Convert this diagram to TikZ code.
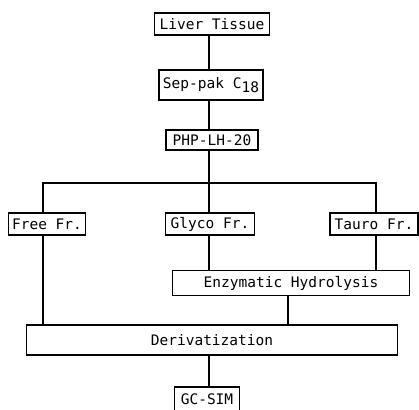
\documentclass[tikz,border=0pt]{standalone}
\usepackage{fontspec}
\setmonofont{DejaVu Sans Mono}
\usetikzlibrary{positioning,calc}
\tikzset{
    box/.style={draw,rectangle,line width=1.2pt,inner sep=0pt,font=\ttfamily\fontsize{14.5}{16}\selectfont},
}

\begin{document}
\begin{tikzpicture}[x=1pt,y=-1pt,line width=1.4pt,
    wide box/.style={box,minimum height=30}]
        \clip (0,0) rectangle (419,409);
        \node[box,minimum width=115,minimum height=22] (liver) at (212,24) {Liver Tissue};
        \node[box,minimum width=104,minimum height=30] (sep) at (211,85) {Sep-pak C\raisebox{-4pt}{18}};
        \node[box,minimum width=92,minimum height=20] (php) at (212,140) {PHP-LH-20};
        \coordinate (split) at (209,183);
        \node[box,minimum width=77,minimum height=22] (free) at (47,224) {Free Fr.};
        \node[box,minimum width=89,minimum height=22] (glyco) at (210,224) {Glyco Fr.};
        \node[box,minimum width=88,minimum height=22] (tauro) at (374,224) {Tauro Fr.};
        \node[box,minimum width=237,minimum height=25] (enz) at (291,283) {Enzymatic Hydrolysis};
        \node[wide box,minimum width=371] (deriv) at (212,340) {Derivatization};
        \node[box,minimum width=65,minimum height=24] (gc) at (207,399) {GC-SIM};

        % main column
        \path
            (liver.south -| split) edge (sep.north -| split)
            (sep.south -| split) edge (php.north -| split)
            (php.south -| split) edge (split)
            (split) edge (glyco.north -| split)
            ;
        \draw (free.north -| 43,0) |- (split) -| (tauro.north -| 376,0);
        % fractions down
        \path
            (free.south -| 43,0) edge (deriv.north -| 43,0)
            (glyco.south -| split) edge (enz.north -| split)
            (tauro.south -| 376,0) edge (enz.north -| 376,0)
            (enz.south -| 288,0) edge (deriv.north -| 288,0)
            (deriv.south -| split) edge (gc.north -| split)
            ;
\end{tikzpicture}
\end{document}
